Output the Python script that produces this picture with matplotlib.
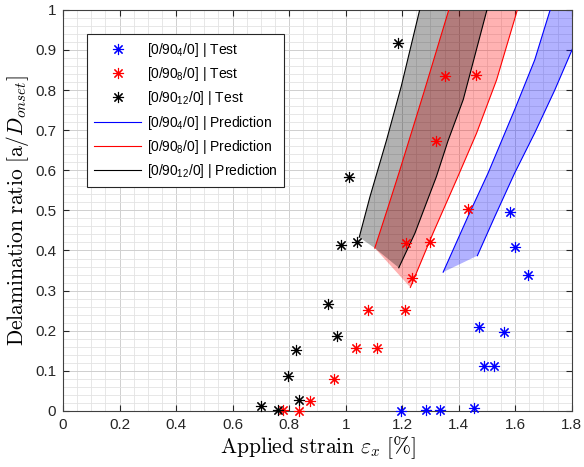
import numpy as np
import matplotlib
matplotlib.use('Agg')
import matplotlib.pyplot as plt
from matplotlib.ticker import MultipleLocator, FormatStrFormatter
from matplotlib.font_manager import FontProperties
from matplotlib.lines import Line2D

plt.rcParams['font.family'] = ['Liberation Sans', 'DejaVu Sans']
plt.rcParams['mathtext.fontset'] = 'custom'
plt.rcParams['mathtext.rm'] = 'Liberation Sans'
plt.rcParams['mathtext.it'] = 'Liberation Sans:italic'

# test results: applied strain [%] vs delamination ratio
blue_x = [1.195, 1.286, 1.335, 1.454, 1.471, 1.490, 1.525, 1.559, 1.583, 1.598, 1.644]
blue_y = [0.0, 0.002, 0.002, 0.008, 0.210, 0.112, 0.112, 0.198, 0.497, 0.408, 0.338]

red_x = [0.777, 0.836, 0.873, 0.960, 1.038, 1.080, 1.112, 1.209, 1.213, 1.233,
         1.300, 1.319, 1.351, 1.434, 1.460]
red_y = [0.002, 0.0, 0.026, 0.079, 0.158, 0.252, 0.158, 0.252, 0.418, 0.332,
         0.421, 0.673, 0.834, 0.504, 0.838]

black_x = [0.700, 0.759, 0.797, 0.826, 0.836, 0.938, 0.971, 0.982, 1.012, 1.041, 1.186]
black_y = [0.012, 0.002, 0.087, 0.151, 0.027, 0.267, 0.187, 0.413, 0.582, 0.421, 0.918]

# prediction bands: lower-strain edge, higher-strain edge, bottom link
blue_lo_x = [1.345, 1.433, 1.504, 1.598, 1.669, 1.722, 1.735]
blue_lo_y = [0.346, 0.485, 0.593, 0.751, 0.875, 0.996, 1.02]
blue_hi_x = [1.466, 1.528, 1.598, 1.669, 1.740, 1.801, 1.870]
blue_hi_y = [0.387, 0.485, 0.593, 0.693, 0.800, 0.900, 1.02]
blue_mid_x, blue_mid_y = [], []

red_lo_x = [1.103, 1.150, 1.192, 1.278, 1.365, 1.373]
red_lo_y = [0.406, 0.508, 0.601, 0.797, 1.000, 1.02]
red_hi_x = [1.229, 1.309, 1.392, 1.463, 1.534, 1.606, 1.612]
red_hi_y = [0.308, 0.443, 0.576, 0.692, 0.825, 0.996, 1.02]
red_mid_x, red_mid_y = [], []

black_lo_x = [1.048, 1.086, 1.145, 1.197, 1.262, 1.268]
black_lo_y = [0.433, 0.534, 0.676, 0.810, 1.000, 1.02]
black_hi_x = [1.188, 1.245, 1.321, 1.362, 1.416, 1.500, 1.508]
black_hi_y = [0.357, 0.443, 0.584, 0.673, 0.776, 1.000, 1.02]
black_mid_x, black_mid_y = [1.103], [0.406]

labels_test = ['[0/90$_4$/0] | Test', '[0/90$_8$/0] | Test', '[0/90$_{12}$/0] | Test']
labels_pred = ['[0/90$_4$/0] | Prediction', '[0/90$_8$/0] | Prediction',
               '[0/90$_{12}$/0] | Prediction']

colors = ['#0000ff', '#ff0000', '#000000']
asterisk = (8, 2, 0)

fig = plt.figure(figsize=(5.84, 4.67), dpi=100)
ax = fig.add_axes([0.108, 0.120, 0.871, 0.859])

bands = [
    (blue_lo_x, blue_lo_y, blue_hi_x, blue_hi_y, blue_mid_x, blue_mid_y),
    (red_lo_x, red_lo_y, red_hi_x, red_hi_y, red_mid_x, red_mid_y),
    (black_lo_x, black_lo_y, black_hi_x, black_hi_y, black_mid_x, black_mid_y),
]
for (lx, ly, hx, hy, mx, my), c in zip(bands, colors):
    px = lx + hx[::-1] + mx
    py = ly + hy[::-1] + my
    ax.fill(px, py, color=c, alpha=0.3, lw=0, zorder=2)
    ax.plot(lx, ly, color=c, lw=0.8, zorder=3)
    ax.plot(hx, hy, color=c, lw=0.8, zorder=3)

for xs, ys, c in zip([blue_x, red_x, black_x], [blue_y, red_y, black_y], colors):
    ax.plot(xs, ys, ls='none', marker=asterisk, ms=8, mew=0.8, color=c,
            clip_on=False, zorder=4)

ax.set_xlim(0, 1.8)
ax.set_ylim(0, 1)
ax.xaxis.set_major_locator(MultipleLocator(0.2))
ax.xaxis.set_minor_locator(MultipleLocator(0.05))
ax.yaxis.set_major_locator(MultipleLocator(0.1))
ax.yaxis.set_minor_locator(MultipleLocator(0.02))
ax.xaxis.set_major_formatter(FormatStrFormatter('%g'))
ax.yaxis.set_major_formatter(FormatStrFormatter('%g'))

ax.grid(which='major', color='#cfcfcf', lw=0.7, zorder=0)
ax.grid(which='minor', color='#e3e3e3', lw=0.6, zorder=0)
ax.set_axisbelow(True)
ax.tick_params(which='major', direction='in', top=True, right=True, length=4,
               width=0.8, color='#262626', labelsize=11, labelcolor='#262626', pad=5)
ax.tick_params(which='minor', length=0)
for s in ax.spines.values():
    s.set_color('#404040')
    s.set_linewidth(0.8)

cm = FontProperties(family='serif', size=15.5, math_fontfamily='cm')
ax.set_xlabel(r'$\mathrm{Applied\ strain\ }\varepsilon_x\mathrm{\ [\%]}$', fontproperties=cm)
ax.set_ylabel(r'$\mathrm{Delamination\ ratio\ [a/}D_{onset}\mathrm{]}$', fontproperties=cm)
ax.xaxis.set_label_coords(0.5, -0.058)
ax.yaxis.set_label_coords(-0.063, 0.5)

handles = [Line2D([], [], ls='none', marker=asterisk, ms=8, mew=0.8, color=c) for c in colors]
handles += [Line2D([], [], color=c, lw=0.8) for c in colors]
leg = ax.legend(handles, labels_test + labels_pred, loc='upper left',
                bbox_to_anchor=(0.047, 0.94), borderaxespad=0, fancybox=False,
                framealpha=1, edgecolor='#262626', fontsize=10, handlelength=3.4,
                labelspacing=0.45, borderpad=0.5, handletextpad=0.4)
leg.get_frame().set_linewidth(0.8)

fig.savefig('out.png', dpi=100)
